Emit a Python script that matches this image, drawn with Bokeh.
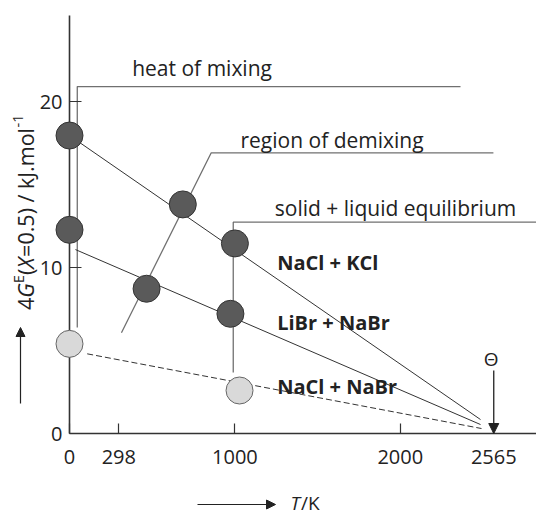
import math
from bokeh.plotting import figure
from bokeh.models import LinearAxis, FixedTicker, Range1d, Label, Arrow, NormalHead
from bokeh.embed import file_html
from bokeh.resources import INLINE

# ---------------- data ----------------
tick_T = [0, 298, 1000, 2000, 2565]
tick_T_labels = ["0", "298", "1000", "2000", "2565"]
tick_G = [0, 10, 20]
tick_G_labels = ["0", "10", "20"]

nacl_kcl_T = [0, 685, 1000]
nacl_kcl_G = [17.95, 13.8, 11.45]
libr_nabr_T = [0, 466, 973]
libr_nabr_G = [12.27, 8.72, 7.21]
nacl_nabr_T = [0, 1028]
nacl_nabr_G = [5.40, 2.59]

kcl_line_T = [0, 2485]
kcl_line_G = [17.95, 0.84]
libr_line_T = [36, 2485]
libr_line_G = [11.08, 0.54]
nabr_line_T = [107, 2491]
nabr_line_G = [4.80, 0.30]

theta_T = 2565

heat_T = [47, 47, 2364]
heat_G = [6.39, 20.90, 20.90]
demix_T = [314, 857, 2563]
demix_G = [6.07, 16.91, 16.91]
sle_T = [990, 990, 2830]
sle_G = [3.67, 12.73, 12.73]

# ---------------- layout ----------------
W, H = 536, 515
PX0, PXK = 69.0, 0.1654     # pixel of T=0, pixels per K
PY0, PYU = 433.0, 16.6      # pixel of G=0, pixels per kJ/mol
BASE_FIX = 7.0              # correction of the rendered text baseline offset


def X(px):
    return (px - PX0) / PXK


def Y(py):
    return (PY0 - py) / PYU


FONT = "Open Sans"
INK = "#222222"
DARK = "#333333"
GREY = "#707070"

p = figure(width=W, height=H, output_backend="svg", toolbar_location=None,
           x_range=Range1d(X(0), X(W)), y_range=Range1d(Y(H), Y(0)),
           x_axis_type=None, y_axis_type=None, min_border=0,
           background_fill_color="white", border_fill_color="white")
p.outline_line_color = None

# axes
xaxis = LinearAxis(fixed_location=0, bounds=(0, X(W)),
                   ticker=FixedTicker(ticks=tick_T, minor_ticks=[]),
                   major_label_overrides={t: s for t, s in zip(tick_T, tick_T_labels)})
xaxis.axis_line_color = DARK
xaxis.axis_line_width = 1.6
xaxis.major_tick_line_color = DARK
xaxis.major_tick_line_width = 1.2
xaxis.major_tick_in = 10
xaxis.major_tick_out = 0
xaxis.minor_tick_line_color = None
xaxis.major_label_standoff = 16
xaxis.major_label_text_font = FONT
xaxis.major_label_text_font_size = "20px"
xaxis.major_label_text_color = INK
p.add_layout(xaxis, "below")

yaxis = LinearAxis(fixed_location=0, bounds=(0, Y(15)),
                   ticker=FixedTicker(ticks=tick_G, minor_ticks=[]),
                   major_label_overrides={t: s for t, s in zip(tick_G, tick_G_labels)})
yaxis.axis_line_color = DARK
yaxis.axis_line_width = 1.6
yaxis.major_tick_line_color = DARK
yaxis.major_tick_line_width = 1.2
yaxis.major_tick_in = 12
yaxis.major_tick_out = 0
yaxis.minor_tick_line_color = None
yaxis.major_label_standoff = 7
yaxis.major_label_text_font = FONT
yaxis.major_label_text_font_size = "20px"
yaxis.major_label_text_color = INK
p.add_layout(yaxis, "left")

# bracket annotation lines
for tt, gg in [(heat_T, heat_G), (demix_T, demix_G), (sle_T, sle_G)]:
    p.line(tt, gg, line_color=GREY, line_width=1.3)

# fitted lines
p.line(kcl_line_T, kcl_line_G, line_color=DARK, line_width=1)
p.line(libr_line_T, libr_line_G, line_color=DARK, line_width=1)
p.line(nabr_line_T, nabr_line_G, line_color=DARK, line_width=1, line_dash="6 3")

# points
p.scatter(nacl_kcl_T, nacl_kcl_G, size=27, fill_color="#5a5a5a", line_color="#333333",
          line_width=1, level="overlay")
p.scatter(libr_nabr_T, libr_nabr_G, size=27, fill_color="#5a5a5a", line_color="#333333",
          line_width=1, level="overlay")
p.scatter(nacl_nabr_T, nacl_nabr_G, size=27, fill_color="#d9d9d9", line_color="#666666",
          line_width=1, level="overlay")

# theta arrow
p.add_layout(Arrow(end=NormalHead(size=10, fill_color=INK, line_color=INK),
                   x_start=theta_T, y_start=Y(370), x_end=theta_T, y_end=0,
                   line_color=INK, line_width=1.3))


def lab(px, py, text, size="20px", style="normal", align="left"):
    p.add_layout(Label(x=X(px), y=Y(py - BASE_FIX), text=text, text_align=align,
                       text_baseline="alphabetic", text_font=FONT,
                       text_font_size=size, text_font_style=style, text_color=INK))


lab(490.7, 365, "Θ", "19px", align="center")
lab(131.7, 74.3, "heat of mixing", "21px")
lab(240, 146, "region of demixing", "21px")
lab(274.3, 214.3, "solid + liquid equilibrium", "21px")
lab(276.7, 269.3, "NaCl + KCl", "20px", "bold")
lab(276.7, 329, "LiBr + NaBr", "20px", "bold")
lab(276.7, 393.3, "NaCl + NaBr", "20px", "bold")

# x axis title with arrow
p.add_layout(Arrow(end=NormalHead(size=9, fill_color=INK, line_color=INK),
                   x_start=X(197), y_start=Y(504), x_end=X(275), y_end=Y(504),
                   line_color=INK, line_width=1.2))
lab(290, 509, "T", "19px", "italic")
lab(300.5, 509, "/K", "19px")

# y axis title (rotated, pieces) with arrow
p.add_layout(Arrow(end=NormalHead(size=9, fill_color=INK, line_color=INK),
                   x_start=X(20), y_start=Y(403), x_end=X(20), y_end=Y(327),
                   line_color=INK, line_width=1.2))

YS = 21.5
pieces = [("4", "normal", 1.0, 0.572, 0.0),
          ("G", "italic", 1.0, 0.674, 0.0),
          ("E", "normal", 0.68, 0.556, 0.36),
          ("(", "normal", 1.0, 0.296, 0.0),
          ("X", "italic", 1.0, 0.55, 0.0),
          ("=0.5) / kJ.mol", "normal", 1.0, 6.022, 0.0),
          ("-1", "normal", 0.68, 0.894, 0.36)]
base_x = 32.0 - BASE_FIX
py = 309.5
for text, style, fac, em, shift in pieces:
    fs = YS * fac
    p.add_layout(Label(x=X(base_x - shift * YS), y=Y(py), text=text, angle=math.pi / 2,
                       text_align="left", text_baseline="alphabetic", text_font=FONT,
                       text_font_size=f"{fs:.1f}px", text_font_style=style, text_color=INK))
    py -= em * fs

open("out.html", "w").write(file_html(p, INLINE))
